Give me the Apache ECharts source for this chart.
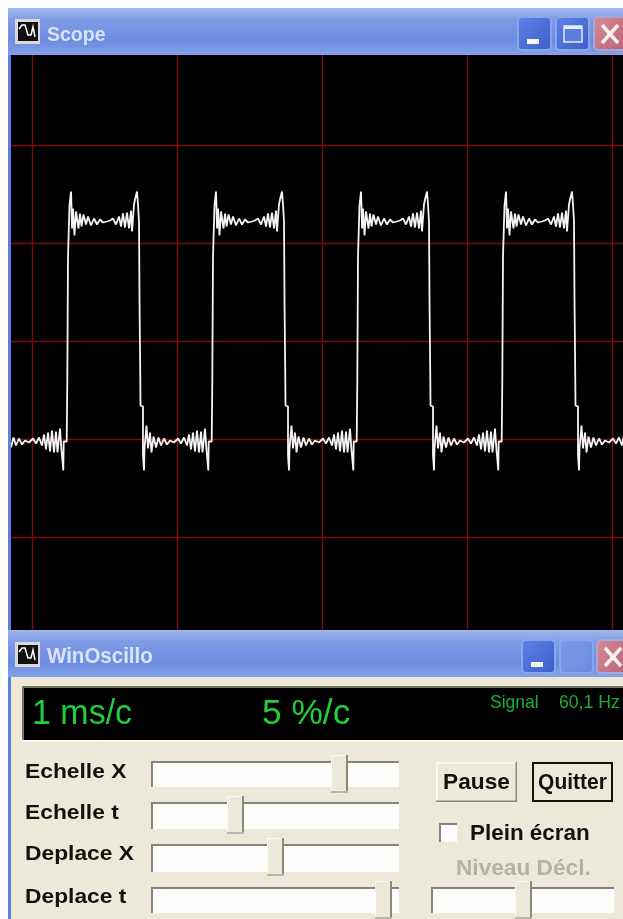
<!DOCTYPE html>
<html><head><meta charset="utf-8">
<style>html,body{margin:0;padding:0;background:#fff}#c{width:623px;height:919px;filter:blur(.45px)}</style>
<script src="https://cdn.jsdelivr.net/npm/echarts@6/dist/echarts.min.js"></script>
</head><body><div id="c"></div>
<script>
// Samples on the screen: 145 samples per division (1 ms/c), 98 counts per division (5 %/c)
const leadInX=[-21,-18.5,-16,-13,-10,-7,-3,1,4,7,10,12,14,16,18,20,22,24,25.5,28,29,29.5,30,31.3,31.7,34.7];
const leadInY=[-106,-96,-104,-97,-103,-99,-101,-97,-102,-96,-104,-93,-108,-91,-110,-89,-111,-90,-111,-87,-86,-109,-114,-129,-100,-100];
const cycle1X=[35,35.3,36,37,37.5,39,39.5,40,41,42.5,44,45.5,46.5,48,49.5,51.5,54,56,59,62,65,68,71,75,78,81,84,87,89,91,93,95,97,99,100,101,102,103,105,106,107,107.3,107.5,108.3,108.5,111,111,112,112.5,114.5,116,118,119.5,121.5,124,126.5,129,132,135,138,142,146,149,152,155,157,159,161,163,165,167,169,170.5,173,174,174.5,175,176.3,176.7,179.7];
const cycle1Y=[-100,-39,85,85,136,150,135,113,133,106,130,132,113,128,115,127,117,125,116,123,117,122,119,120,121,123,117,125,115,128,114,129,113,131,110,109,137,142,150,137,120,120,42,-39,-64,-65,-114,-129,-107,-84,-107,-91,-111,-95,-106,-96,-104,-97,-103,-99,-101,-97,-102,-96,-104,-93,-108,-91,-110,-89,-111,-90,-111,-87,-86,-109,-114,-129,-100,-100];
const cycle2X=[180,180.3,181,182,182.5,184,184.5,185,186,187.5,189,190.5,191.5,193,194.5,196.5,199,201,204,207,210,213,216,220,223,226,229,232,234,236,238,240,242,244,245,246,247,248,250,251,252,252.3,252.5,253.3,253.5,256,256,257,257.5,259.5,261,263,264.5,266.5,269,271.5,274,277,280,283,287,291,294,297,300,302,304,306,308,310,312,314,315.5,318,319,319.5,320,321.3,321.7,324.7];
const cycle2Y=[-100,-39,85,85,136,150,135,113,133,106,130,132,113,128,115,127,117,125,116,123,117,122,119,120,121,123,117,125,115,128,114,129,113,131,110,109,137,142,150,137,120,120,42,-39,-64,-65,-114,-129,-107,-84,-107,-91,-111,-95,-106,-96,-104,-97,-103,-99,-101,-97,-102,-96,-104,-93,-108,-91,-110,-89,-111,-90,-111,-87,-86,-109,-114,-129,-100,-100];
const cycle3X=[325,325.3,326,327,327.5,329,329.5,330,331,332.5,334,335.5,336.5,338,339.5,341.5,344,346,349,352,355,358,361,365,368,371,374,377,379,381,383,385,387,389,390,391,392,393,395,396,397,397.3,397.5,398.3,398.5,401,401,402,402.5,404.5,406,408,409.5,411.5,414,416.5,419,422,425,428,432,436,439,442,445,447,449,451,453,455,457,459,460.5,463,464,464.5,465,466.3,466.7,469.7];
const cycle3Y=[-100,-39,85,85,136,150,135,113,133,106,130,132,113,128,115,127,117,125,116,123,117,122,119,120,121,123,117,125,115,128,114,129,113,131,110,109,137,142,150,137,120,120,42,-39,-64,-65,-114,-129,-107,-84,-107,-91,-111,-95,-106,-96,-104,-97,-103,-99,-101,-97,-102,-96,-104,-93,-108,-91,-110,-89,-111,-90,-111,-87,-86,-109,-114,-129,-100,-100];
const cycle4X=[470,470.3,471,472,472.5,474,474.5,475,476,477.5,479,480.5,481.5,483,484.5,486.5,489,491,494,497,500,503,506,510,513,516,519,522,524,526,528,530,532,534,535,536,537,538,540,541,542,542.3,542.5,543.3,543.5,546,546,547,547.5,549.5,551,553,554.5,556.5,559,561.5,564,567,570,573,577,581,584,587,590,592];
const cycle4Y=[-100,-39,85,85,136,150,135,113,133,106,130,132,113,128,115,127,117,125,116,123,117,122,119,120,121,123,117,125,115,128,114,129,113,131,110,109,137,142,150,137,120,120,42,-39,-64,-65,-114,-129,-107,-84,-107,-91,-111,-95,-106,-96,-104,-97,-103,-99,-101,-97,-102,-96,-104,-93];

const signalX=[...leadInX,...cycle1X,...cycle2X,...cycle3X,...cycle4X];
const signalY=[...leadInY,...cycle1Y,...cycle2Y,...cycle3Y,...cycle4Y];

const windowTitles=['Scope','WinOscillo'];
const sliderLabels=['Echelle X','Echelle t','Deplace X','Deplace t'];
const readouts=['1 ms/c','5 %/c','Signal','60,1 Hz'];
const buttonLabels=['Pause','Quitter'];
const checkLabel='Plein écran';
const levelLabel='Niveau Décl.';

const Z=50, FF='"Liberation Sans",Arial,sans-serif';
const g=[];
const rect=(x,y,w,h,fill,extra)=>g.push(Object.assign({type:'rect',z:Z,silent:true,shape:{x,y,width:w,height:h},style:{fill}},extra||{}));
const rrect=(x,y,w,h,r,fill,stroke)=>g.push({type:'rect',z:Z,silent:true,shape:{x,y,width:w,height:h,r},style:{fill,stroke,lineWidth:stroke?2:0}});
const line=(x1,y1,x2,y2,stroke,w)=>g.push({type:'line',z:Z+1,silent:true,shape:{x1,y1,x2,y2},style:{stroke,lineWidth:w||1}});
const txt=(t,x,y,size,fill,weight,align,sx,sy)=>g.push({type:'text',z:Z+2,silent:true,x,y,scaleX:sx||1,scaleY:sy||1,style:{text:t,x:0,y:0,fill,fontSize:size,fontWeight:weight||'normal',fontFamily:FF,align:align||'left',verticalAlign:'middle'}});
const titleGrad={type:'linear',x:0,y:0,x2:0,y2:1,colorStops:[{offset:0,color:'#a3b8ee'},{offset:.25,color:'#7e9be6'},{offset:.7,color:'#6c8ce0'},{offset:1,color:'#84a0e8'}]};
const btnGrad=(a,b)=>({type:'linear',x:0,y:0,x2:1,y2:1,colorStops:[{offset:0,color:a},{offset:1,color:b}]});

// page margins and window frames
rect(0,0,623,8,'#ffffff');
rect(0,0,8,919,'#ffffff');
rect(8,8,3,622,'#5f7fdc');
function titlebar(y,title,iconY,textY,btnX,maxDisabled,titleSize,titleSx){
  rect(8,y,615,47,titleGrad);
  // icon
  rect(15,iconY,25,25,'#d8d8d4');
  rect(18,iconY+3,20,19,'#111111');
  g.push({type:'polyline',z:Z+1,silent:true,shape:{points:[[19,iconY+10],[22,iconY+6],[25,iconY+6],[28,iconY+16],[31,iconY+16],[33,iconY+8],[35,iconY+18]]},style:{stroke:'#fff',fill:'none',lineWidth:1.5}});
  txt(title,47,textY,titleSize,'#dbe3fb','bold','left',titleSx,1.05);
  const by=iconY-2;
  rrect(btnX[0],by,33,33,4,btnGrad('#5f84e6','#3a5cc8'),'#8aa6ea');
  rect(btnX[0]+9,by+22,12,5,'#f4f4f4');
  rrect(btnX[1],by,33,33,4,maxDisabled?btnGrad('#7d9ae6','#6a8adf'):btnGrad('#5f84e6','#3a5cc8'),'#8aa6ea');
  if(maxDisabled){rect(btnX[1]+8,by+9,17,16,'#7593e4');}
  else{rect(btnX[1]+8,by+9,18,16,'#5a7ee0');g.push({type:'rect',z:Z+1,silent:true,shape:{x:btnX[1]+8,y:by+9,width:18,height:16},style:{fill:'none',stroke:'#e6ecfb',lineWidth:1.5}});rect(btnX[1]+8,by+9,18,3,'#e6ecfb');}
  rrect(btnX[2],by,40,33,4,btnGrad('#d88c98','#b45c70'),'#a4a8d8');
  line(btnX[2]+8,by+8,btnX[2]+24,by+26,'#f6f0f2',3.5);
  line(btnX[2]+24,by+8,btnX[2]+8,by+26,'#f6f0f2',3.5);
}
titlebar(8,windowTitles[0],19,35,[518,556,594],false,19.5,1);
// lower window
rect(8,630,615,289,'#ece9d8');
rect(8,677,3,242,'#5f7fdc');
titlebar(630,windowTitles[1],642,657,[522,560,597],true,20.5,1);
// readout panel
rect(22,686,601,56,'#fbfaf4');
rect(22,686,601,2,'#77766c');
rect(22,686,2,54,'#77766c');
rect(24,688,599,52,'#000000');
txt(readouts[0],32,714,33,'#1fd03a','normal','left',1.03,1.08);
txt(readouts[1],262,714,33,'#1fd03a','normal','left',1.07,1.08);
txt(readouts[2],490,703,14,'#1cae38','normal','left',1.25,1.3);
txt(readouts[3],559,703,14,'#1cae38','normal','left',1.26,1.3);
// sliders
const sliderTracks=[[151,761,248,26],[151,802,248,27],[151,844,248,28],[151,887,248,26],[431,887,183,26]];
const sliderThumbs=[[331,755],[227,796],[267,838],[375,881],[515,881]];
sliderTracks.forEach(([x,y,w,h])=>{
  rect(x,y,w,h,'#fdfdfb');
  rect(x,y,w,2,'#85847a');
  rect(x,y,2,h,'#85847a');
});
sliderThumbs.forEach(([x,y])=>{
  rect(x,y,17,38,'#ece9d8');
  rect(x,y,17,1,'#fbfaf5');
  rect(x,y,1,38,'#fbfaf5');
  rect(x+15,y,2,38,'#8a897e');
  rect(x,y+36,17,2,'#b8b6a8');
});
// labels
const labelYs=[772.5,813.5,854.5,897];
sliderLabels.forEach((t,i)=>txt(t,25,labelYs[i],20,'#111111','bold','left',1.14,1.05));
// buttons
rect(436,762,81,40,'#ece9d8');
rect(436,762,81,1.5,'#fbfaf5');rect(436,762,1.5,40,'#fbfaf5');
rect(515.5,762,1.5,40,'#8a897e');rect(436,800.5,81,1.5,'#8a897e');
txt(buttonLabels[0],476.5,783,21,'#111111','bold','center',1.08,1.05);
rect(532,762,81,40,'#111111');
rect(534,764,77,36,'#ece9d8');
txt(buttonLabels[1],572.5,783,21,'#111111','bold','center',1,1.05);
// checkbox
rect(439,823,18,19,'#fdfdfb');
rect(439,823,18,2,'#85847a');rect(439,823,2,19,'#85847a');
txt(checkLabel,470,834,22,'#111111','bold','left',1.02);
txt(levelLabel,456,868.5,22,'#b4b2a6','bold','left',1.03);

const option={
  animation:false,
  backgroundColor:'#000',
  grid:{left:-113,top:47.5,width:870,height:588,outerBoundsMode:'none',containLabel:false,show:true,backgroundColor:'#000',borderWidth:0},
  xAxis:{type:'value',min:-145,max:725,interval:145,axisLine:{show:false},axisTick:{show:false},axisLabel:{show:false},splitLine:{show:true,lineStyle:{color:'#7c0d0d',width:1.4}}},
  yAxis:{type:'value',min:-294,max:294,interval:98,axisLine:{show:false},axisTick:{show:false},axisLabel:{show:false},splitLine:{show:true,lineStyle:{color:'#7c0d0d',width:1.4}}},
  series:[{type:'line',data:signalX.map((x,i)=>[x,signalY[i]]),symbol:'none',smooth:false,z:5,lineStyle:{color:'#f4f4f4',width:1.8}}],
  graphic:{elements:g}
};
const chart=echarts.init(document.getElementById('c'),null,{renderer:'canvas'});
chart.setOption(option);
</script></body></html>
